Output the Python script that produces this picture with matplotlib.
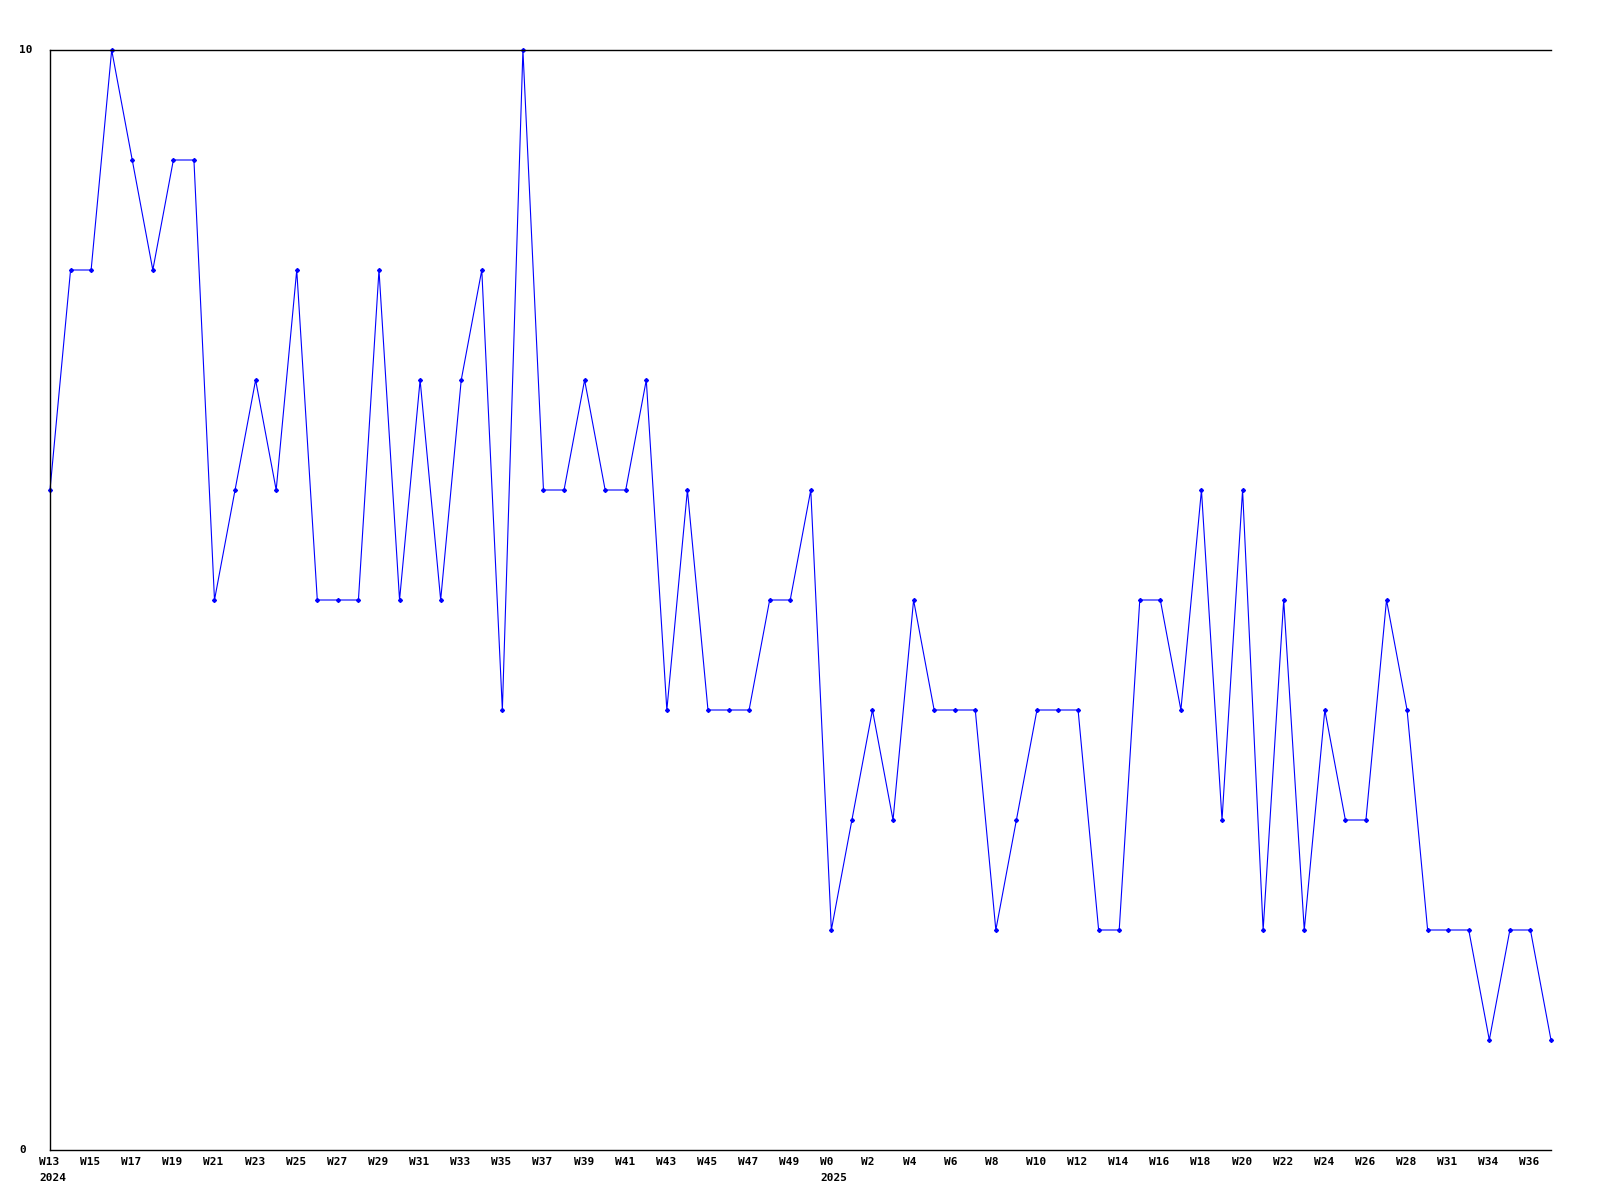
import matplotlib
matplotlib.use("Agg")
import matplotlib.pyplot as plt

values = [6, 8, 8, 10, 9, 8, 9, 9, 5, 6, 7, 6, 8, 5, 5, 5, 8, 5, 7, 5,
          7, 8, 4, 10, 6, 6, 7, 6, 6, 7, 4, 6, 4, 4, 4, 5, 5, 6, 2, 3,
          4, 3, 5, 4, 4, 4, 2, 3, 4, 4, 4, 2, 2, 5, 5, 4, 6, 3, 6, 2,
          5, 2, 4, 3, 3, 5, 4, 2, 2, 2, 1, 2, 2, 1]
week_labels = ["W13", "W15", "W17", "W19", "W21", "W23", "W25", "W27", "W29",
               "W31", "W33", "W35", "W37", "W39", "W41", "W43", "W45", "W47",
               "W49", "W0", "W2", "W4", "W6", "W8", "W10", "W12", "W14", "W16",
               "W18", "W20", "W22", "W24", "W26", "W28", "W31", "W34", "W36"]
year_labels = {0: "2024", 38: "2025"}
y_labels = [0, 10]

font = dict(family="DejaVu Sans Mono", fontweight="bold", fontsize=8)

fig = plt.figure(figsize=(16, 12), dpi=100)
ax = fig.add_axes([50 / 1600, 50 / 1200, 1501 / 1600, 1100 / 1200])

x = list(range(len(values)))
ax.plot(x, values, color="#0000ff", linewidth=0.8, marker="D",
        markersize=2.0, clip_on=False)

ax.set_xlim(0, len(values) - 1)
ax.set_ylim(0, 10)
ax.spines["right"].set_visible(False)
for s in ["left", "top", "bottom"]:
    ax.spines[s].set_linewidth(1.0)
ax.set_xticks([])
ax.set_yticks([])

for i, lbl in enumerate(week_labels):
    ax.annotate(lbl, xy=(2 * i, 0), xycoords=("data", "axes fraction"),
                xytext=(-11, -7), textcoords="offset pixels",
                ha="left", va="top", **font)
for idx, yr in year_labels.items():
    ax.annotate(yr, xy=(idx, 0), xycoords=("data", "axes fraction"),
                xytext=(-11, -23), textcoords="offset pixels",
                ha="left", va="top", **font)
for v in y_labels:
    ax.annotate(str(v), xy=(0, v), xycoords=("axes fraction", "data"),
                xytext=(-31, 0), textcoords="offset pixels",
                ha="left", va="center", **font)

fig.savefig("out.png", dpi=100)
